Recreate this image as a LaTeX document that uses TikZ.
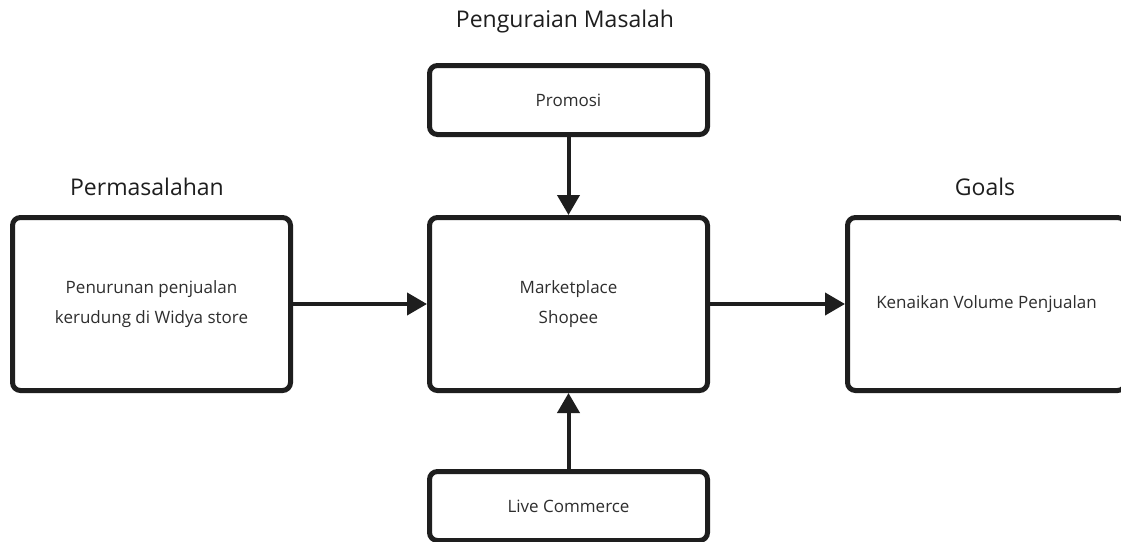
\documentclass[tikz,border=0pt]{standalone}
\usepackage{fontspec}
\setmainfont{Open Sans}
\definecolor{tinta}{HTML}{1E1E1E}
\definecolor{teks}{HTML}{2E2E2E}
\usetikzlibrary{
	arrows.meta,
	positioning
}
\tikzset{
	kotak/.style={
		draw=tinta,
		line width=5pt,
		rounded corners=8pt,
		fill=white,
		align=center,
		text=teks,
		font=\fontsize{17}{30}\selectfont,
		minimum width=278pt
	},
	judul/.style={
		text=tinta,
		font=\fontsize{23}{27}\selectfont
	},
	panah/.style={
		-{Triangle[length=20pt, width=22pt]},
		line width=4pt,
		tinta
	}
}
\begin{document}
\begin{tikzpicture}[x=1pt, y=-1pt]
		\useasboundingbox (0,0) rectangle (1121,541);
		\clip (0,0) rectangle (1121,541);
		\fill[white] (0,0) rectangle (1121,541);
		% kotak utama
		\node[kotak, minimum height=173pt] (masalah) at (151.5,304) {Penurunan penjualan\\kerudung di Widya store};
		\node[kotak, minimum height=173pt] (shopee) at (568.5,304) {Marketplace\\Shopee};
		\node[kotak, minimum height=173pt] (goals) at (986.5,304) {Kenaikan Volume Penjualan};
		\node[kotak, minimum height=69pt] (promosi) at (568.5,100) {Promosi};
		\node[kotak, minimum height=69pt] (live) at (568.5,506) {Live Commerce};
		% judul
		\node[judul] (jPenguraian) at (565,22) {Penguraian Masalah};
		\node[judul] (jPermasalahan) at (147,187) {Permasalahan};
		\node[judul] (jGoals) at (985,187) {Goals};
		% panah
		\draw[panah] (promosi.south) -- (shopee.north);
		\draw[panah] (live.north) -- (shopee.south);
		\draw[panah] (masalah.east) -- (shopee.west);
		\draw[panah] (shopee.east) -- (goals.west);
	\end{tikzpicture}
\end{document}
